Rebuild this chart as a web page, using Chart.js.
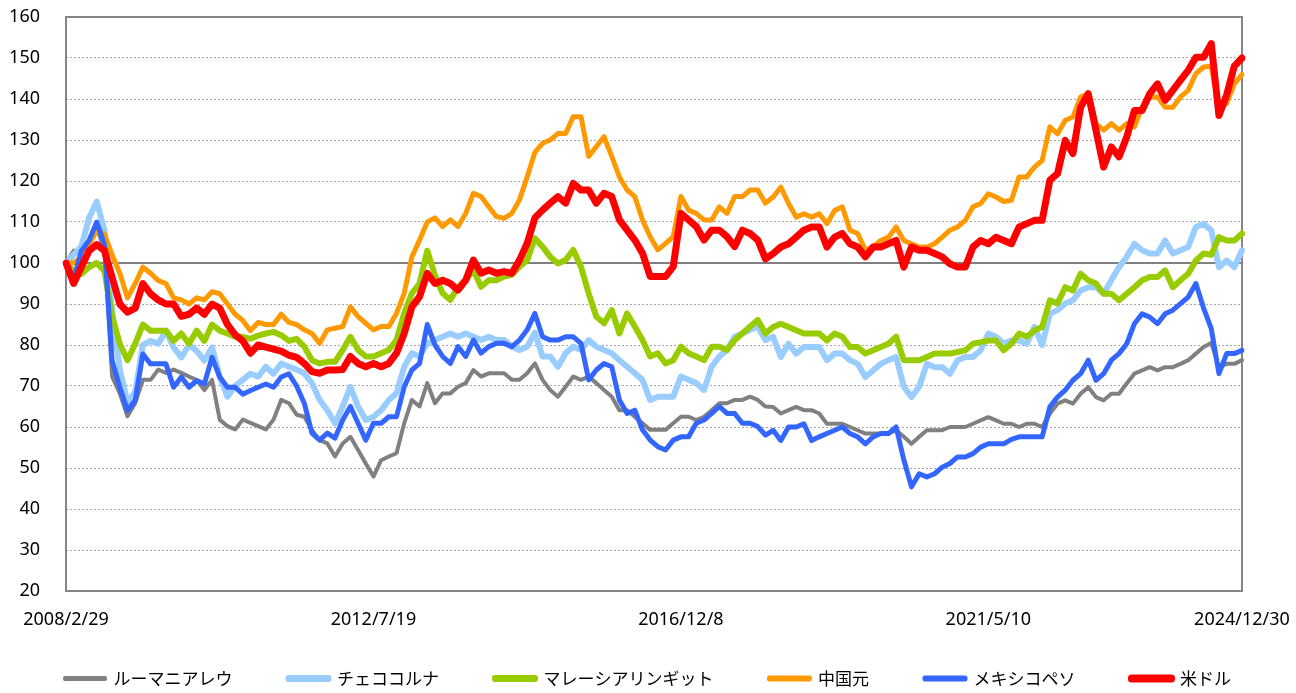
<!DOCTYPE html>
<html>
<head>
<meta charset="utf-8">
<script src="https://cdn.jsdelivr.net/npm/chart.js@4.4.1/dist/chart.umd.min.js"></script>
<style>
html,body{margin:0;padding:0;background:#fff;}
#wrap{width:1296px;height:693px;}
</style>
</head>
<body>
<div id="wrap"><canvas id="c" width="1296" height="693"></canvas></div>
<script>
// x-axis tick labels and the sample index at which each appears
const tickLabels = ['2008/2/29', '2012/7/19', '2016/12/8', '2021/5/10', '2024/12/30'];
const tickIndex = [0, 40, 80, 120, 153];

const seriesNames = ['ルーマニアレウ', 'チェココルナ', 'マレーシアリンギット', '中国元', 'メキシコペソ', '米ドル'];

const ron = [100,103,102,105.5,108.7,103,72.3,68.2,62.6,65.8,
71.5,71.5,74,73.2,74,73.2,72.3,71.5,69,71.5,
61.8,60.2,59.4,61.8,61,60.2,59.4,61.8,66.6,65.8,
63,62.5,59.3,56.8,56,52.8,56,57.6,54.4,51.1,
47.9,51.9,52.8,53.6,60.9,66.6,65,70.7,65.8,68.2,
68.2,69.8,70.7,73.9,72.3,73.1,73.1,73.1,71.5,71.5,
73.1,75.5,71.5,69,67.4,69.8,72.3,71.5,72.3,70.7,
69,67.4,64.1,64.1,62.5,60.9,59.3,59.3,59.3,60.9,
62.5,62.5,61.7,62.5,64.1,65.8,65.8,66.6,66.6,67.4,
66.6,65,64.9,63.3,64.1,64.9,64.1,64.1,63.3,60.8,
60.8,60.8,60,59.2,58.4,58.4,58.4,58.4,59.2,57.6,
55.9,57.6,59.2,59.2,59.2,60,60,60,60.8,61.6,
62.4,61.6,60.8,60.8,60,60.8,60.8,60,63.2,65.7,
66.5,65.7,68.1,69.7,67.3,66.5,68.1,68.1,70.6,73,
73.8,74.6,73.8,74.6,74.6,75.4,76.3,77.9,79.5,80.5,
74.6,75.4,75.4,76.3];

const czk = [100,102,104,111,115,108,88.5,74,66,68.5,
80,81,80.3,83.5,79.4,77,80,78.6,76.2,79.4,
72.3,67.4,70,71.5,73,72.3,74.7,73,75.5,74.7,
74,73.1,70.7,66.6,64.1,60.9,65,69.8,65,61.7,
62.5,64.1,66.6,68.2,74.7,78,77.2,80.4,81.2,82,
82.8,82,82.8,82,81.2,82,81.2,81.2,79.6,78.8,
79.6,83,77.2,77.2,74.7,78,79.6,78.8,81.2,79.6,
78.8,78,76.3,74.7,73.1,71.5,66.6,67.4,67.4,67.4,
72.3,71.5,70.7,69,74.7,77.2,78.8,82,82.8,83.7,
84.5,81.2,82,77.1,80.3,77.9,79.5,79.5,79.5,76.3,
77.9,77.9,76.3,75.4,72.2,73.8,75.4,76.3,77.1,69.8,
67.3,69.8,75.4,74.6,74.6,73,76.3,77.1,77.1,78.7,
82.8,82,80.3,81.1,81.1,80.3,84.4,80,87.6,88.5,
90.1,90.9,93.3,94.1,94.1,92.5,95.8,99,101.5,104.7,
103.1,102.3,102.3,105.5,102.3,103.1,103.9,108.8,109.6,108,
99,100.6,99,103.1];

const myr = [100,98,97.3,99,100,98,87,80.3,76.3,80.3,
85,83.5,83.5,83.5,81,82.8,80.3,83.5,81,85,
83.5,82.8,82,82,81.5,82.3,82.8,83.2,82.4,81,
81.5,79.6,76.3,75.5,75.9,75.9,78.8,82,78.8,77.2,
77.2,78,78.8,81.2,87.7,92.6,95,103,97,92.6,
91,94.2,95.8,98.3,94.2,95.8,95.8,96.7,97.1,99.1,
100.7,106,104,101.5,99.9,100.7,103.2,99.1,92.6,86.9,
85.3,88.5,82.8,87.7,84.5,81.2,77.2,78,75.5,76.3,
79.6,78,77.2,76.3,79.6,79.6,78.8,81.2,82.8,84.5,
86.1,82.8,84.4,85.2,84.4,83.6,82.8,82.8,82.8,81.1,
82.8,82,79.5,79.5,77.9,78.7,79.5,80.3,82,76.3,
76.3,76.3,77.1,77.9,77.9,77.9,78.3,78.7,80.3,80.7,
81.1,81.1,78.7,80.3,82.8,82,83.6,84.4,90.9,90.1,
94.1,93.3,97.4,95.8,95,92.5,92.5,90.9,92.5,94.1,
95.8,96.6,96.6,98.2,94.1,95.8,97.4,100.6,102.3,102,
106.3,105.5,105.5,107.2];

const cny = [100,100,101.5,104.5,108,107,102,97.5,91.5,95,
99,97.5,95.7,95,91.5,91,90,91.5,91,93,
92.5,90,87.5,86,83.5,85.5,85,85,87.5,85.5,
85,83.7,82.8,80.4,83.7,84.1,84.5,89.3,86.9,85.3,
83.7,84.5,84.5,87.7,92.6,101.5,105.6,110,111,108.9,
110.5,108.9,112.1,117,116.2,113.7,111.3,110.9,112.1,115.4,
121,127,129.2,130,131.6,131.6,135.7,135.7,126,128.4,
130.8,126,121,117.8,116.2,110.5,106.4,103.2,104.8,106.4,
116.2,112.9,112.1,110.5,110.5,113.7,112.1,116.2,116.2,117.8,
117.8,114.6,116.1,118.5,114.5,111.2,112,111.2,112,109.6,
112.8,113.7,108,107.2,103.1,103.9,105.5,106.3,108.8,105.5,
104.7,103.9,103.9,104.7,106.3,108,108.8,110.4,113.7,114.5,
116.9,116.1,115,115.3,121,121,123.4,125,133.2,131.5,
134.8,135.6,140.5,141.3,134,132.4,134,132.4,134,133.2,
138,140.5,140.5,138,138,140.5,142.1,146.2,147.8,148,
138,138.9,143.7,146];

const mxn = [100,96,103,105.5,110,104.5,76.2,69.7,64,66.5,
77.8,75.4,75.4,75.4,69.7,72.2,69.7,71.3,70.5,77,
72.2,69.7,69.7,68,68.9,69.7,70.5,69.7,72.2,73,
70,65.8,58.5,56.8,58.5,57.3,61.7,65,60.9,56.8,
60.9,60.9,62.5,62.5,69.8,73.9,75.5,85,80,77.2,
75.5,79.6,77.2,81.2,78,79.6,80.4,80.4,79.6,81.2,
83.7,87.7,82,81.2,81.2,82,82,80.4,71.5,73.9,
75.5,74.7,66.6,63.3,64.1,59.3,56.8,55.2,54.4,56.8,
57.6,57.6,60.9,61.7,63.3,65,63.3,63.3,60.9,60.9,
60.1,58,59.2,56.7,60,60,60.8,56.7,57.6,58.4,
59.2,60,58.4,57.6,55.9,57.6,58.4,58.4,60,52,
45.4,48.6,47.8,48.6,50.2,51.1,52.7,52.7,53.5,55.1,
55.9,55.9,55.9,57,57.6,57.6,57.6,57.6,64.9,67.3,
69,71.4,73,76.3,71.4,73,76.3,77.9,80.3,85.2,
87.6,86.8,85.2,87.6,88.5,90.1,91.7,95,89,84,
73,77.9,77.9,78.7];

const usd = [100,95,99,103,104.5,103,96.5,90,88,89,
95,92.5,91,90,90,87,87.5,89,87.5,90,
89,85,82.5,81,78,80,79.5,79,78.5,77.5,
77,75.5,73.5,73.1,73.9,73.9,74,77.2,75.5,74.7,
75.5,74.7,75.5,78,82.8,89.3,91.8,97.5,95,95.8,
95,93.4,95.8,100.7,97.5,98.3,97.5,97.9,97.5,100.7,
104.8,111,112.9,114.6,116.2,114.6,119.4,117.8,117.8,114.6,
117,116.2,110.5,108,105.6,102.4,96.7,96.7,96.7,99.1,
112.1,110.5,108.9,105.6,108,108,106.4,104,108,107.2,
105.6,101,102.3,103.9,104.7,106.3,108,108.8,108.8,103.9,
106.3,107.2,104.7,103.9,101.5,103.9,103.9,104.7,105.5,99,
103.9,103.1,103.1,102.3,101.5,99.8,99,99,103.9,105.5,
104.7,106.3,105.5,104.7,108.8,109.6,110.4,110.4,120.2,121.8,
129.9,126.7,138,141.3,132.4,123.4,128.3,125.9,130.7,137.2,
137.2,141.3,143.7,139.7,142.1,144.6,147,150.2,150.2,153.5,
136,141,148,150];

const seriesValues = [ron, czk, myr, cny, mxn, usd];
const seriesColors = ['#808080', '#99CCFF', '#99CC00', '#FF9900', '#3366FF', '#FF0000'];
const seriesWidths = [4, 6, 6, 5, 5, 7];
const seriesOrder = [5, 4, 3, 2, 1, 0];

// category labels built from tick labels (blank elsewhere)
const categories = usd.map((_, i) => {
  const k = tickIndex.indexOf(i);
  return k >= 0 ? tickLabels[k] : '';
});

const framePlugin = {
  id: 'frame',
  beforeDatasetsDraw(chart) {
    const {ctx, chartArea: a} = chart;
    ctx.save();
    ctx.strokeStyle = '#868686';
    ctx.lineWidth = 2;
    ctx.strokeRect(a.left, a.top, a.right - a.left, a.bottom - a.top);
    ctx.restore();
  }
};

// place the legend row lower than its layout box so its text centre sits near y=679
const legendPlace = {
  id: 'legendPlace',
  afterLayout(chart) {
    const lg = chart.legend;
    if (!lg) return;
    lg.top = 614;
    lg.bottom = chart.height;
    lg.height = lg.bottom - lg.top;
  }
};

new Chart(document.getElementById('c'), {
  type: 'line',
  data: {
    labels: categories,
    datasets: seriesNames.map((name, k) => ({
      label: name,
      data: seriesValues[k],
      borderColor: seriesColors[k],
      backgroundColor: seriesColors[k],
      borderWidth: seriesWidths[k],
      borderCapStyle: 'round',
      borderJoinStyle: 'round',
      pointRadius: 0,
      tension: 0,
      fill: false,
      order: seriesOrder[k]
    }))
  },
  options: {
    responsive: false,
    animation: false,
    devicePixelRatio: 1,
    layout: {padding: {left: 0, right: 0, top: 17, bottom: 0}},
    plugins: {
      tooltip: {enabled: false},
      legend: {
        position: 'bottom',
        maxHeight: 30,
        labels: {
          sort: (a, b) => a.datasetIndex - b.datasetIndex,
          boxWidth: 40,
          boxHeight: 1,
          padding: 56,
          color: '#000',
          font: {family: "'Noto Sans CJK JP', 'Noto Sans'", size: 17}
        }
      }
    },
    scales: {
      x: {
        type: 'category',
        offset: false,
        grid: {display: true, drawOnChartArea: false, drawTicks: true, tickLength: 18, tickColor: 'rgba(0,0,0,0)', color: 'rgba(0,0,0,0)'},
        border: {display: false},
        ticks: {
          autoSkip: false,
          maxRotation: 0,
          minRotation: 0,
          padding: 0,
          color: '#000',
          font: {family: "'Noto Sans'", size: 18},
          callback: function (val) {
            const t = this.getLabelForValue(val);
            return t ? t : null;
          }
        },
        afterFit: (s) => { s.height = 72; }
      },
      y: {
        min: 20,
        max: 160,
        grid: {
          drawTicks: true,
          tickLength: 26,
          tickColor: 'rgba(0,0,0,0)',
          color: (c) => (c.tick && c.tick.value === 100) ? '#808080' : '#A6A6A6',
          lineWidth: (c) => (c.tick && c.tick.value === 100) ? 2 : 1
        },
        border: {
          display: false,
          dash: (c) => (c.tick && c.tick.value === 100) ? [] : [2, 2]
        },
        ticks: {
          stepSize: 10,
          padding: 0,
          color: '#000',
          font: {family: "'Noto Sans'", size: 18}
        },
        afterFit: (s) => { s.width = 66; }
      },
      yRight: {
        position: 'right',
        display: true,
        grid: {display: false, drawTicks: false},
        border: {display: false},
        ticks: {display: false},
        afterFit: (s) => { s.width = 54; }
      }
    }
  },
  plugins: [framePlugin, legendPlace]
});
</script>
</body>
</html>
